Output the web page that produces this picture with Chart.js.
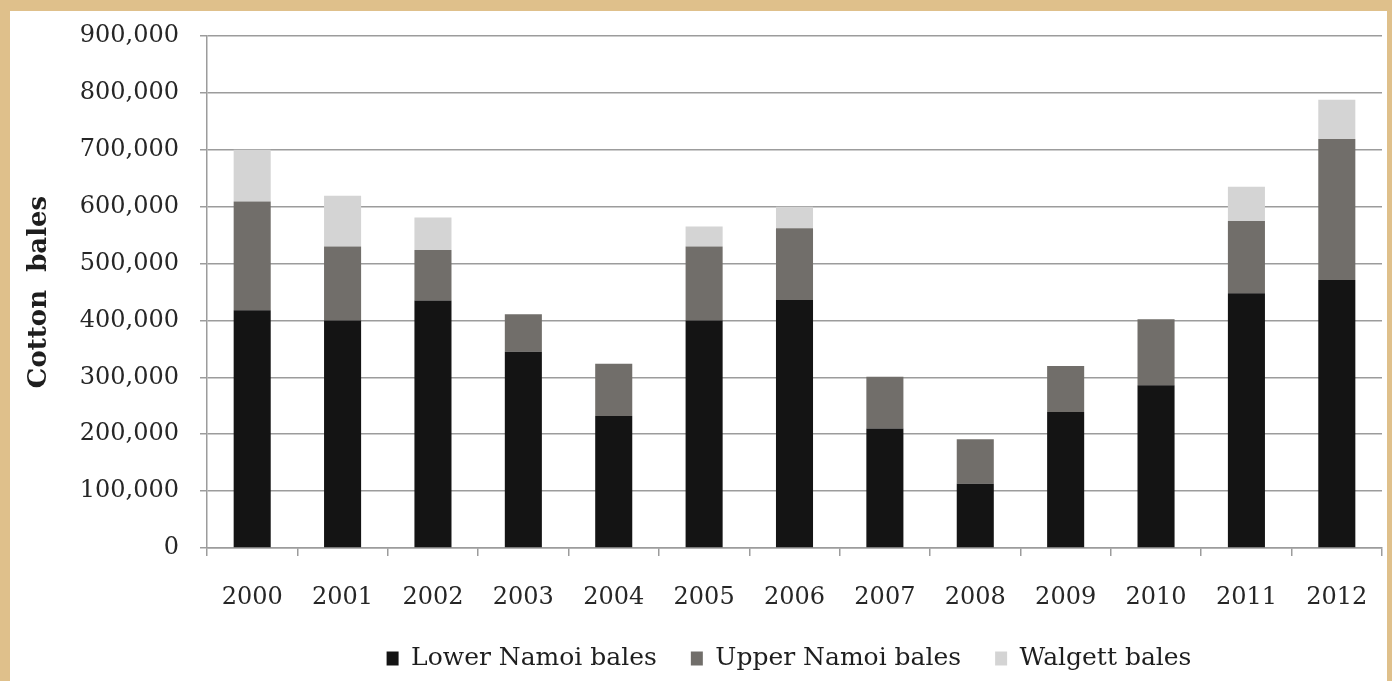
<!DOCTYPE html>
<html lang="en">
<head>
    <meta charset="UTF-8">
    <title>Cotton bales</title>
    <script src="https://cdn.jsdelivr.net/npm/chart.js"></script>
    <style>
        html, body {
            margin: 0;
            padding: 0;
            background: #dfc08b;
            width: 1392px;
            height: 681px;
            overflow: hidden;
        }
        #chart-container {
            position: absolute;
            left: 10px;
            top: 11px;
            width: 1377px;
            height: 670px;
            background: #ffffff;
        }
    </style>
</head>
<body>

    <div id="chart-container">
        <canvas id="cottonChart"></canvas>
    </div>

    <script>
        // Data
        const years = ["2000", "2001", "2002", "2003", "2004", "2005", "2006",
                       "2007", "2008", "2009", "2010", "2011", "2012"];
        const lowerNamoi = [418000, 400000, 435000, 345000, 232000, 400000, 436000,
                            210000, 113000, 239000, 286000, 448000, 471000];
        const upperNamoi = [191000, 130000, 89000, 66000, 92000, 130000, 126000,
                            91000, 78000, 81000, 116000, 127000, 248000];
        const walgett = [91000, 89000, 57000, 0, 0, 35000, 38000,
                         0, 0, 0, 0, 60000, 69000];

        const serif = "'DejaVu Serif', serif";
        const gridGrey = "#9c9c9c";

        // legend sits a bit right of the canvas centre, under the plot
        const legendShift = {
            id: "legendShift",
            afterLayout(chart) {
                chart.legend.left += 86;
                chart.legend.right += 86;
            }
        };

        let ctx = document.getElementById("cottonChart").getContext("2d");
        let cottonChart = new Chart(ctx, {
            type: 'bar',
            data: {
                labels: years,
                datasets: [
                    { label: "Lower Namoi bales", data: lowerNamoi, backgroundColor: "#141414" },
                    { label: "Upper Namoi bales", data: upperNamoi, backgroundColor: "#716e6a" },
                    { label: "Walgett bales", data: walgett, backgroundColor: "#d4d4d4" }
                ]
            },
            plugins: [legendShift],
            options: {
                responsive: true,
                maintainAspectRatio: false,
                animation: false,
                categoryPercentage: 1.0,
                barPercentage: 0.41,
                layout: {
                    padding: { left: 14, right: 5, top: 25, bottom: 0 }
                },
                plugins: {
                    tooltip: { enabled: false },
                    legend: {
                        position: "bottom",
                        labels: {
                            font: { family: serif, size: 25 },
                            color: "#1e1e1e",
                            boxWidth: 12,
                            boxHeight: 14,
                            padding: 34
                        }
                    }
                },
                scales: {
                    x: {
                        stacked: true,
                        grid: {
                            offset: true,
                            drawOnChartArea: false,
                            drawTicks: true,
                            tickLength: 8,
                            color: gridGrey,
                            lineWidth: 1.5
                        },
                        border: { color: gridGrey, width: 1.5 },
                        ticks: {
                            font: { family: serif, size: 24 },
                            color: "#262626",
                            padding: 27,
                            maxRotation: 0
                        },
                        afterFit: function (scale) {
                            scale.height = 64;
                            scale.paddingLeft = 0;
                            scale.paddingRight = 0;
                        }
                    },
                    y: {
                        stacked: true,
                        min: 0,
                        max: 900000,
                        grid: {
                            color: gridGrey,
                            lineWidth: 1.5,
                            tickLength: 7
                        },
                        border: { color: gridGrey, width: 1.5 },
                        ticks: {
                            stepSize: 100000,
                            font: { family: serif, size: 24 },
                            color: "#262626",
                            padding: 21,
                            callback: function (value) {
                                return value.toLocaleString("en-US");
                            }
                        },
                        title: {
                            display: true,
                            text: "Cotton  bales",
                            font: { family: serif, size: 26, weight: "bold" },
                            color: "#1e1e1e",
                            padding: 0
                        },
                        afterFit: function (scale) {
                            scale.width = 183;
                            scale.paddingTop = 0;
                            scale.paddingBottom = 0;
                        }
                    }
                }
            }
        });
    </script>

</body>
</html>
